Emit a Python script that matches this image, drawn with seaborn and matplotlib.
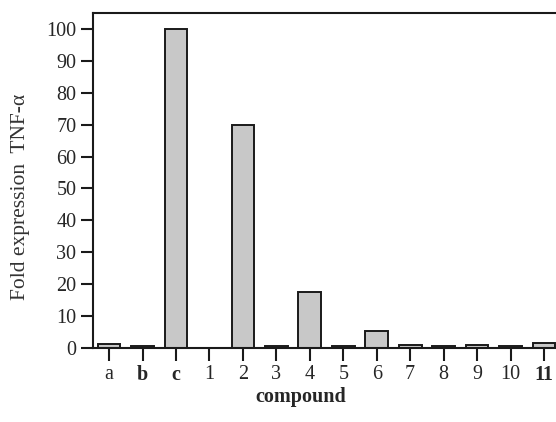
import pandas as pd
import matplotlib.pyplot as plt
import seaborn as sns

compounds = ['a', 'b', 'c', '1', '2', '3', '4', '5', '6', '7', '8', '9', '10', '11']
fold_tnf = [1.2, 0.5, 100, 0, 70, 0.5, 17.5, 0.5, 5.3, 1.0, 0.5, 1.0, 0.5, 1.5]
bold_labels = ['b', 'c', '11']

df = pd.DataFrame({'compound': compounds, 'fold': fold_tnf})

sns.set_style('white')
plt.rcParams['font.family'] = ['Liberation Serif', 'DejaVu Serif']

fig = plt.figure(figsize=(5.56, 4.22), dpi=100)
# axes run a bit past the right edge, like the cropped scan
ax = fig.add_axes([0.1673, 0.1754, 0.858, 0.7938])

sns.barplot(data=df, x='compound', y='fold', order=compounds, color='#c8c8c8',
            saturation=1, edgecolor='#1a1a1a', linewidth=1.4, width=0.68, ax=ax)

ax.set_xlim(-0.48, 13.78)
ax.set_ylim(0, 105)
ax.set_yticks(range(0, 101, 10))

for side in ['top', 'left', 'bottom']:
    ax.spines[side].set_linewidth(1.5)
    ax.spines[side].set_color('#1a1a1a')
ax.spines['right'].set_visible(False)

ax.tick_params(axis='both', direction='out', length=9, width=1.5, color='#1a1a1a',
               labelsize=14.5, pad=3, bottom=True, left=True)
for lab in ax.get_xticklabels():
    if lab.get_text() in bold_labels:
        lab.set_fontweight('bold')

ax.set_xlabel('compound', fontsize=14.5, fontweight='bold')
ax.xaxis.set_label_coords(0.435, -0.115)
ax.set_ylabel('Fold expression  TNF-α', fontsize=15.5, color='#333333')
ax.yaxis.set_label_coords(-0.132, 0.45)

fig.savefig('out.png', dpi=100)
